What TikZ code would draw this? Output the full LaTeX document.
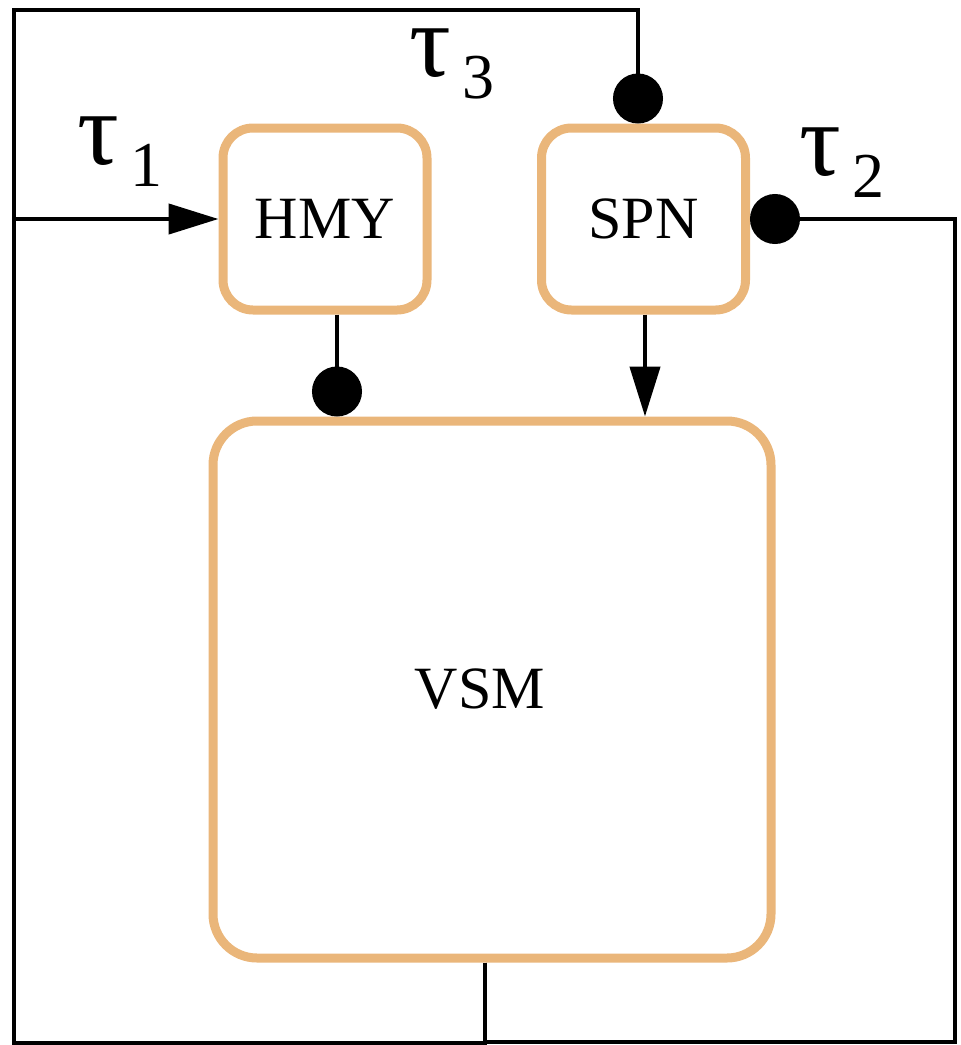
\documentclass[tikz,border=0pt]{standalone}
\usepackage{fontspec}
\setmainfont{Liberation Serif}
\usetikzlibrary{arrows.meta}
\definecolor{boxorange}{RGB}{234,182,122}
\begin{document}
\begin{tikzpicture}[x=0.5pt,y=-0.5pt,
  blk/.style={draw=boxorange,line width=4.5pt,rounded corners=15pt,inner sep=0pt,
    minimum width=102pt,minimum height=91pt,font=\fontsize{30}{34}\selectfont},
  wire/.style={line width=2.2pt,black},
  dot/.style={-{Circle[length=25pt,width=25pt]}},
  tri/.style={-{Triangle[length=25pt,width=15pt]}},
  tlabel/.style={inner sep=0pt}]
\useasboundingbox (0,0) rectangle (960,1045);
\node[blk] (hmy) at (325,219) {HMY};
\node[blk] (spn) at (643.5,219) {SPN};
\node[blk,minimum width=279pt,minimum height=268.5pt,rounded corners=22pt] (vsm) at (492,689.5) {VSM\kern12pt\relax};
\coordinate (bl) at (14,1043);
\coordinate (tl) at (14,10);
\coordinate (br) at (955,1042);
\coordinate (j1) at (14,219);
\coordinate (vsmout) at ([xshift=-3.5pt]vsm.south);
% left/top loop to SPN top
\draw[wire,dot] (vsmout) |- (bl) -- (tl) -| ([xshift=-2.75pt]spn.north);
% right loop to SPN east
\draw[wire,dot] (vsmout) |- (br) |- (spn.east);
% tau1 arrow
\draw[wire,tri] (j1) -- (hmy.west);
% HMY -> VSM
\draw[wire,dot] ([xshift=6pt]hmy.south) -- ([xshift=6pt]hmy.south |- vsm.north);
% SPN -> VSM
\draw[wire,tri] ([xshift=0.75pt]spn.south) -- ([xshift=0.75pt]spn.south |- vsm.north);
% labels
\node[tlabel] (t1) at (120,152) {{\fontsize{52}{56}\selectfont τ}\hspace{6pt}\raisebox{-11pt}{\fontsize{32}{36}\selectfont 1}};
\node[tlabel] (t3) at (452,64) {{\fontsize{52}{56}\selectfont τ}\hspace{6pt}\raisebox{-11pt}{\fontsize{32}{36}\selectfont 3}};
\node[tlabel] (t2) at (842,163) {{\fontsize{52}{56}\selectfont τ}\hspace{6pt}\raisebox{-11pt}{\fontsize{32}{36}\selectfont 2}};
\end{tikzpicture}
\end{document}
